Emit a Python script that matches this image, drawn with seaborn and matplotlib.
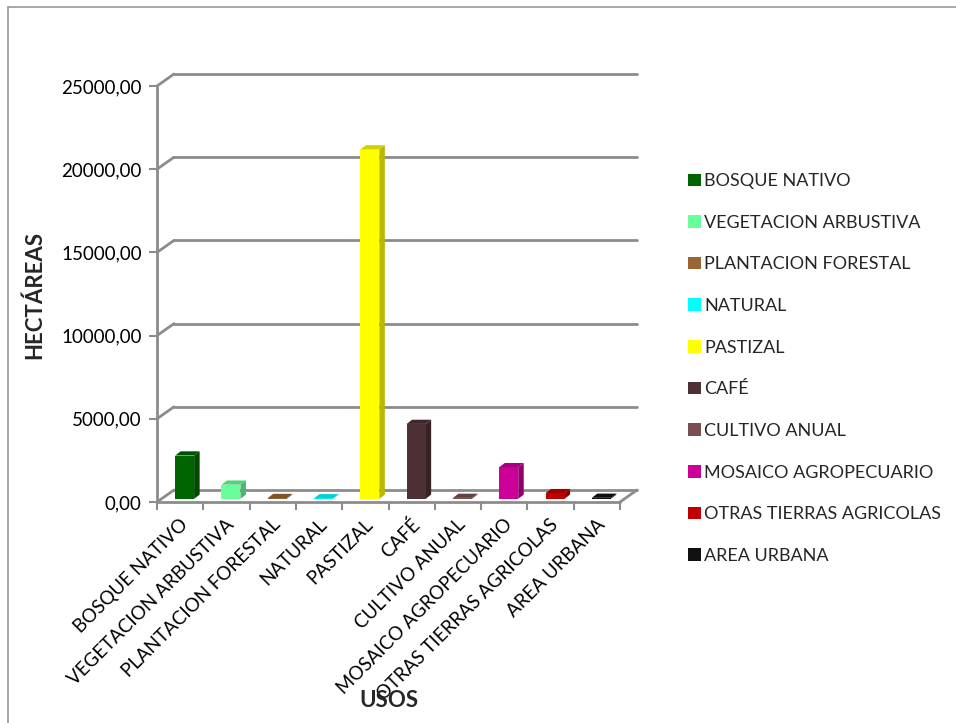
import numpy as np
import pandas as pd
import matplotlib
matplotlib.use("Agg")
import matplotlib.pyplot as plt
import seaborn as sns
from matplotlib.patches import Polygon
from matplotlib.lines import Line2D
from matplotlib.transforms import offset_copy, ScaledTranslation
import matplotlib.colors as mcolors

# ---------------- data ----------------
categories = ["BOSQUE NATIVO", "VEGETACION ARBUSTIVA", "PLANTACION FORESTAL",
              "NATURAL", "PASTIZAL", "CAFÉ", "CULTIVO ANUAL",
              "MOSAICO AGROPECUARIO", "OTRAS TIERRAS AGRICOLAS", "AREA URBANA"]
hectares = [2600, 850, 45, 30, 21000, 4500, 55, 1900, 340, 60]
colors = ["#006400", "#66FF99", "#996633", "#00FFFF", "#FFFF00",
          "#4D3033", "#7A4F4F", "#CC0099", "#C00000", "#111111"]
y_ticks = [0, 5000, 10000, 15000, 20000, 25000]
y_tick_labels = ["0,00", "5000,00", "10000,00", "15000,00", "20000,00", "25000,00"]

df = pd.DataFrame({"uso": categories, "ha": hectares})
palette = dict(zip(categories, colors))

sns.set_theme(style="white")
plt.rcParams["font.family"] = ["Lato", "DejaVu Sans"]

W, H = 956, 723
fig = plt.figure(figsize=(W / 100, H / 100), dpi=100)
fig.patch.set_facecolor("white")

# front floor: x 157..620 px, y(0)=502 px, y(25000)=86 px (from top)
ax_l, ax_r, ax_b, ax_t = 157, 620, 502, 86
ax = fig.add_axes([ax_l / W, (H - ax_b) / H, (ax_r - ax_l) / W, (ax_b - ax_t) / H])
ax.set_xlim(-0.5, len(categories) - 0.5)
ax.set_ylim(0, 25000)
ax.patch.set_alpha(0)
for s in ax.spines.values():
    s.set_visible(False)

# 3D depth offsets (pixels)
WALL_DX, WALL_DY = 17, 12
BAR_DX, BAR_DY = 4.5, 3.2
BAR_DEPTH_X, BAR_DEPTH_Y = 5.5, 4.2
grid_col = "#8c8c8c"

back = offset_copy(ax.transData, fig=fig, x=WALL_DX, y=WALL_DY, units="dots")
# back-wall gridlines + diagonal connectors to front axis
for yv in y_ticks:
    ax.plot([-0.5, len(categories) - 0.5], [yv, yv], color=grid_col, lw=2,
            transform=back, clip_on=False, zorder=1)
    p0 = ax.transData.transform((-0.5, yv))
    ax.add_line(Line2D([p0[0], p0[0] + WALL_DX], [p0[1], p0[1] + WALL_DY],
                       color=grid_col, lw=2, transform=None, clip_on=False, zorder=1))
# floor front edge and right diagonal
ax.plot([-0.5, len(categories) - 0.5], [0, 0], color=grid_col, lw=2, clip_on=False, zorder=1)
pr = ax.transData.transform((len(categories) - 0.5, 0))
ax.add_line(Line2D([pr[0], pr[0] + WALL_DX], [pr[1], pr[1] + WALL_DY],
                   color=grid_col, lw=2, transform=None, clip_on=False, zorder=1))
# front vertical axis
ax.plot([-0.5, -0.5], [0, 25000], color=grid_col, lw=2, clip_on=False, zorder=1)

# bars (front faces) via seaborn
sns.barplot(data=df, x="uso", y="ha", hue="uso", palette=palette, dodge=False,
            width=0.41, saturation=1, legend=True, ax=ax, zorder=3)
bar_tr = offset_copy(ax.transData, fig=fig, x=BAR_DX, y=BAR_DY, units="dots")
fig.canvas.draw()
for p in ax.patches:
    p.set_transform(bar_tr)
    p.set_clip_on(False)
    p.set_edgecolor("none")
    x0, w, h = p.get_x(), p.get_width(), p.get_height()
    base = mcolors.to_rgb(p.get_facecolor())
    side = tuple(c * 0.72 for c in base)
    top = tuple(c * 0.82 for c in base)
    b = ax.transData.transform((x0 + w, 0)) + [BAR_DX, BAR_DY]
    c = ax.transData.transform((x0 + w, h)) + [BAR_DX, BAR_DY]
    d = ax.transData.transform((x0, h)) + [BAR_DX, BAR_DY]
    off = np.array([BAR_DEPTH_X, BAR_DEPTH_Y])
    ax.add_patch(Polygon([b, c, c + off, b + off], closed=True, facecolor=side,
                         edgecolor="none", transform=None, clip_on=False, zorder=2.9))
    ax.add_patch(Polygon([d, c, c + off, d + off], closed=True, facecolor=top,
                         edgecolor="none", transform=None, clip_on=False, zorder=3.1))

# ticks
ax.set_yticks(y_ticks)
ax.set_yticklabels(y_tick_labels, fontsize=13.5, color="#000000")
ax.set_xticks(np.arange(len(categories) + 1) - 0.5, minor=True)
ax.set_xticks(np.arange(len(categories)))
ax.tick_params(axis="y", which="major", length=6, width=1.5, color=grid_col, pad=5, left=True)
ax.tick_params(axis="x", which="major", length=0, pad=4)
ax.tick_params(axis="x", which="minor", length=6, width=1.5, color=grid_col, bottom=True)
ax.set_xticklabels(categories, rotation=45, ha="right", rotation_mode="anchor",
                   fontsize=13.5, color="#000000")
shift = ScaledTranslation(-1 / 100, -8 / 100, fig.dpi_scale_trans)
for lbl in ax.get_xticklabels():
    lbl.set_transform(lbl.get_transform() + shift)

ax.set_ylabel("HECTÁREAS", fontsize=16, fontweight="bold")
ax.yaxis.set_label_coords(-(ax_l - 45) / (ax_r - ax_l), (ax_b - 295) / (ax_b - ax_t))
ax.set_xlabel("USOS", fontsize=16, fontweight="bold")
ax.xaxis.set_label_coords((389 - ax_l) / (ax_r - ax_l), -(690 - ax_b) / (ax_b - ax_t))

# legend
leg = ax.legend(loc="upper left", bbox_to_anchor=(681 / W, (H - 166) / H),
                bbox_transform=fig.transFigure, frameon=False, fontsize=13,
                handlelength=0.7, handleheight=0.7, handletextpad=0.2,
                labelspacing=1.42, borderaxespad=0)
for h in leg.legend_handles:
    h.set_edgecolor("none")

# chart-area border (left and top visible)
fig.add_artist(Line2D([8 / W, 8 / W], [0, (H - 7) / H], color="#9a9a9a", lw=1.2,
                      transform=fig.transFigure))
fig.add_artist(Line2D([8 / W, 1], [(H - 7) / H, (H - 7) / H], color="#9a9a9a", lw=1.2,
                      transform=fig.transFigure))

fig.savefig("out.png", dpi=100, facecolor="white")
